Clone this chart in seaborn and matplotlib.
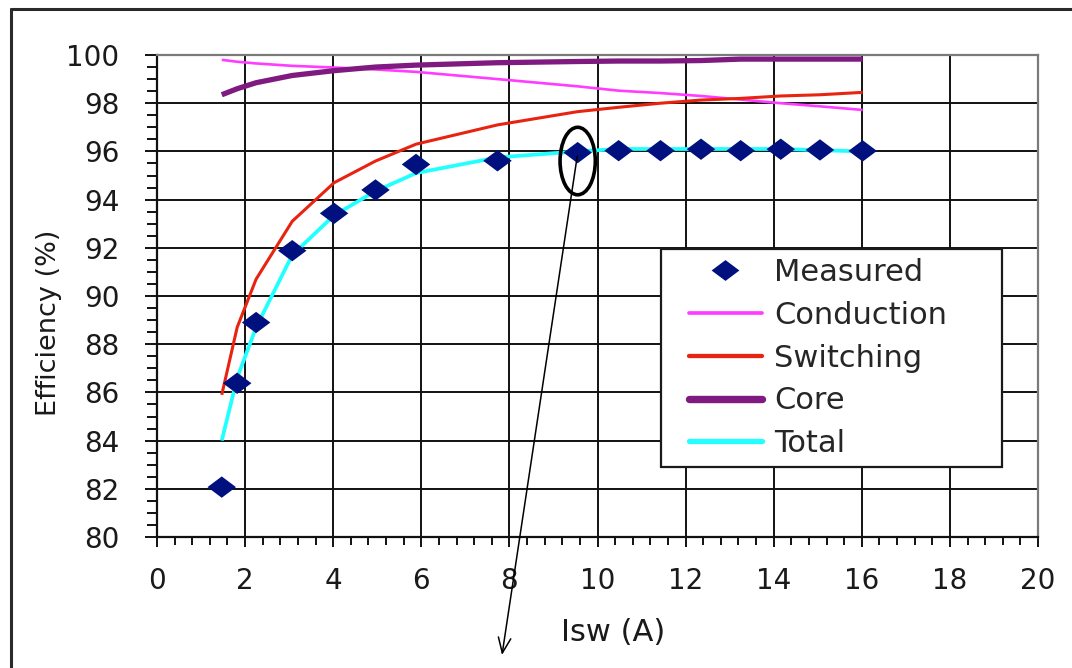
import matplotlib
matplotlib.use("Agg")
import matplotlib.pyplot as plt
import numpy as np
import pandas as pd
import seaborn as sns
from matplotlib.lines import Line2D
from matplotlib.patches import Ellipse
from matplotlib.path import Path
from matplotlib.legend_handler import HandlerLine2D
from matplotlib.ticker import MultipleLocator

# Switch current (A) at each operating point
isw = [1.47, 1.82, 2.25, 3.07, 4.02, 4.96, 5.88, 7.73, 9.55, 10.48, 11.43,
       12.35, 13.25, 14.16, 15.05, 16.02]

# Efficiency (%) per loss model and measurement
measured = [82.07, 86.38, 88.9, 91.88, 93.43, 94.4, 95.46, 95.61, 95.95, 96.03,
            96.03, 96.09, 96.03, 96.09, 96.06, 96.02]
conduction = [99.8, 99.72, 99.65, 99.55, 99.48, 99.4, 99.3, 99.0, 98.7, 98.52,
              98.42, 98.3, 98.15, 98.0, 97.87, 97.72]
switching = [85.9, 88.7, 90.7, 93.1, 94.7, 95.6, 96.3, 97.1, 97.65, 97.83,
             98.0, 98.13, 98.2, 98.3, 98.35, 98.45]
core = [98.35, 98.6, 98.85, 99.15, 99.35, 99.5, 99.58, 99.68, 99.73, 99.75,
        99.75, 99.77, 99.83, 99.83, 99.83, 99.83]
total = [84.0, 86.6, 88.7, 91.7, 93.35, 94.35, 95.1, 95.75, 96.0, 96.1, 96.1,
         96.1, 96.1, 96.1, 96.05, 96.0]

series_names = ["Conduction", "Switching", "Core", "Total"]
series_colors = {"Conduction": "#FF3CFF", "Switching": "#E8230F",
                 "Core": "#7E1A80", "Total": "#22FFFF"}
series_widths = {"Conduction": 1.9, "Switching": 2.2, "Core": 3.8, "Total": 2.7}
marker_color = "#00107E"

x_ticks = [0, 2, 4, 6, 8, 10, 12, 14, 16, 18, 20]
y_ticks = [80, 82, 84, 86, 88, 90, 92, 94, 96, 98, 100]

sns.set_style("white")
plt.rcParams["font.family"] = ["DejaVu Sans"]

df_lines = pd.DataFrame({
    "Isw": isw * 4,
    "Efficiency": conduction + switching + core + total,
    "Model": sum([[n] * len(isw) for n in series_names], []),
})
df_meas = pd.DataFrame({"Isw": isw, "Efficiency": measured})

W, H = 1072, 668
fig = plt.figure(figsize=(W / 100, H / 100), dpi=100)
ax = fig.add_axes([157 / W, 1 - 537 / H, 881 / W, 482 / H])

# flattened diamond marker
diamond = Path([(-1, 0), (0, 0.75), (1, 0), (0, -0.75), (-1, 0)],
               [Path.MOVETO, Path.LINETO, Path.LINETO, Path.LINETO, Path.CLOSEPOLY])

for name in series_names:
    sns.lineplot(data=df_lines[df_lines["Model"] == name], x="Isw", y="Efficiency",
                 color=series_colors[name], linewidth=series_widths[name],
                 ax=ax, legend=False, zorder=3, solid_capstyle="butt")

sns.scatterplot(data=df_meas, x="Isw", y="Efficiency", marker=diamond, s=420,
                color=marker_color, edgecolor="none", linewidth=0, ax=ax,
                legend=False, zorder=4)

ax.set_xlim(0, 20)
ax.set_ylim(80, 100)
ax.set_xticks(x_ticks)
ax.set_yticks(y_ticks)
ax.xaxis.set_minor_locator(MultipleLocator(0.4))
ax.yaxis.set_minor_locator(MultipleLocator(0.5))
ax.grid(True, which="major", color="#111111", linewidth=1.4, zorder=1)
ax.set_axisbelow(True)

for side in ["left", "bottom"]:
    ax.spines[side].set_color("#111111")
    ax.spines[side].set_linewidth(1.6)
for side in ["top", "right"]:
    ax.spines[side].set_color("#7a7a7a")
    ax.spines[side].set_linewidth(1.6)

ax.tick_params(axis="y", which="major", direction="out", length=9, width=1.4,
               color="#111111", pad=18, labelsize=20, left=True)
ax.tick_params(axis="y", which="minor", direction="out", length=7, width=1.4,
               color="#111111", left=True)
ax.tick_params(axis="x", which="major", direction="out", length=7.5, width=1.4,
               color="#111111", pad=14, labelsize=20, bottom=True)
ax.tick_params(axis="x", which="minor", direction="out", length=6, width=1.4,
               color="#111111", bottom=True)
for lbl in ax.get_xticklabels() + ax.get_yticklabels():
    lbl.set_color("#1a1a1a")

ax.set_xlabel("Isw (A)", fontsize=22, color="#1a1a1a")
ax.set_ylabel("Efficiency (%)", fontsize=19.5, color="#1a1a1a")
ax.xaxis.set_label_coords((613 - 157) / 881, (537 - 618) / 482)
ax.yaxis.set_label_coords((62 - 157) / 881, (537 - 323) / 482)

# legend
handles = [Line2D([], [], linestyle="none", marker=diamond, markersize=20,
                  markerfacecolor=marker_color, markeredgewidth=0)]
for name in series_names:
    handles.append(Line2D([], [], color=series_colors[name],
                          linewidth=series_widths[name] * 1.4))
labels = ["Measured"] + series_names
leg = ax.legend(handles, labels, loc="upper left",
                bbox_to_anchor=((661 - 157) / 881, (537 - 468) / 482,
                                (1002 - 661) / 881, (468 - 249) / 482),
                mode="expand", borderaxespad=0,
                fontsize=22, frameon=True, fancybox=False, framealpha=1,
                edgecolor="#1a1a1a", borderpad=0.3, labelspacing=0.45,
                handlelength=3.0, handletextpad=0.4,
                handler_map={Line2D: HandlerLine2D(xpad=0.62)})
leg.get_frame().set_linewidth(1.6)
leg.set_zorder(6)

# highlighted operating point with pointer
ax.add_patch(Ellipse((9.55, 95.6), width=0.8, height=2.8, fill=False,
                     edgecolor="black", linewidth=2.6, zorder=7, clip_on=False))
ax.annotate("", xy=(502 / W, 1 - 655 / H), xycoords="figure fraction",
            xytext=(9.54, 95.8), textcoords="data",
            arrowprops=dict(arrowstyle="->,head_length=1.1,head_width=0.45",
                            color="black", linewidth=1.1, shrinkA=0, shrinkB=0),
            annotation_clip=False, zorder=7)

# outer frame lines
fig.add_artist(Line2D([11 / W, 11 / W], [0, 1 - 9 / H], color="#2a2a2a",
                      linewidth=2.2, transform=fig.transFigure))
fig.add_artist(Line2D([11 / W, 1], [1 - 9 / H, 1 - 9 / H], color="#2a2a2a",
                      linewidth=2.2, transform=fig.transFigure))

fig.savefig("out.png", dpi=100)
